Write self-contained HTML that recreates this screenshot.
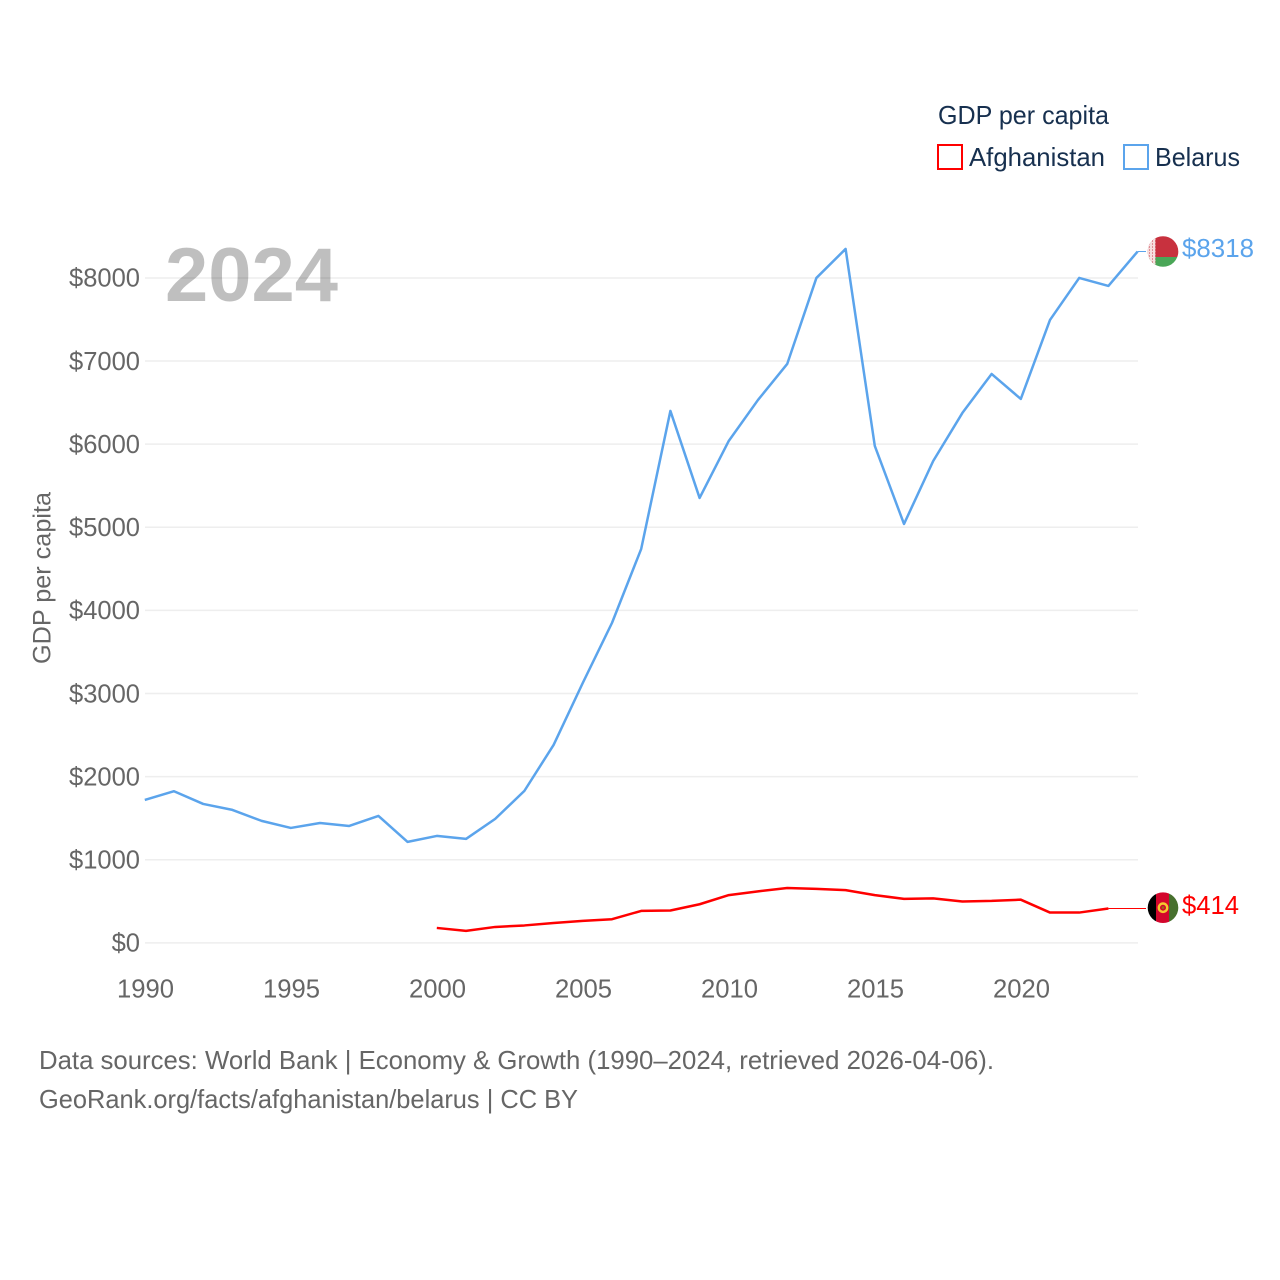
<!DOCTYPE html>
<html lang="en">
<head>
<meta charset="utf-8">
<title>GDP per capita: Afghanistan and Belarus</title>
<style>
html,body{margin:0;padding:0;background:#fff;}
svg{display:block;}
text{font-family:"Liberation Sans",sans-serif;}
</style>
</head>
<body>
<svg id="chart" width="1280" height="1280" viewBox="0 0 1280 1280" xmlns="http://www.w3.org/2000/svg">
  <defs>
    <clipPath id="flag-clip-by"><circle cx="0" cy="0" r="15.3"/></clipPath>
    <clipPath id="flag-clip-af"><circle cx="0" cy="0" r="15.3"/></clipPath>
    <pattern id="ornament" width="3" height="3" patternUnits="userSpaceOnUse">
      <rect width="3" height="3" fill="#f6dede"/>
      <rect x="1" y="1" width="1" height="1" fill="#c9404c"/>
    </pattern>
  </defs>
  <g id="grid"></g>
  <g id="y-ticks"></g>
  <g id="x-ticks"></g>
  <text x="165" y="301" font-size="76" font-weight="700" fill="#000" fill-opacity="0.25" textLength="173" lengthAdjust="spacingAndGlyphs">2024</text>
  <text transform="translate(50.5,664) rotate(-90)" font-size="25" fill="#666" textLength="172" lengthAdjust="spacingAndGlyphs">GDP per capita</text>
  <g id="series"></g>
  <g id="flag-by">
    <g clip-path="url(#flag-clip-by)">
      <rect x="-16" y="-16" width="32" height="21.5" fill="#c8313e"/>
      <rect x="-16" y="5.5" width="32" height="11" fill="#4aa657"/>
      <rect x="-16" y="-16" width="8.5" height="32" fill="url(#ornament)"/>
    </g>
  </g>
  <g id="flag-af">
    <g clip-path="url(#flag-clip-af)">
      <rect x="-16" y="-16" width="9" height="32" fill="#000"/>
      <rect x="-7" y="-16" width="13" height="32" fill="#d3062c"/>
      <rect x="6" y="-16" width="10" height="32" fill="#47702e"/>
      <circle cx="0" cy="0" r="4.2" fill="none" stroke="#f6c72f" stroke-width="2.4"/>
      <circle cx="0" cy="0" r="1.4" fill="#9a6a10"/>
    </g>
  </g>
  <text id="label-by" x="1182" font-size="26" fill="#5ba4ec" textLength="72" lengthAdjust="spacingAndGlyphs"></text>
  <text id="label-af" x="1182" font-size="26" fill="#ff0000" textLength="57" lengthAdjust="spacingAndGlyphs"></text>

  <g>
    <text x="938" y="124" font-size="26" fill="#17304f" textLength="171" lengthAdjust="spacingAndGlyphs">GDP per capita</text>
    <g>
      <rect x="938" y="145" width="24" height="24" fill="none" stroke="#ff0000" stroke-width="2"/>
      <text x="969" y="166" font-size="26" fill="#17304f" textLength="136" lengthAdjust="spacingAndGlyphs">Afghanistan</text>
    </g>
    <g>
      <rect x="1124" y="145" width="24" height="24" fill="none" stroke="#5ba4ec" stroke-width="2"/>
      <text x="1155" y="166" font-size="26" fill="#17304f" textLength="85" lengthAdjust="spacingAndGlyphs">Belarus</text>
    </g>
  </g>

  <text x="39" y="1069" font-size="26" fill="#666" textLength="955" lengthAdjust="spacingAndGlyphs">Data sources: World Bank | Economy &amp; Growth (1990–2024, retrieved 2026-04-06).</text>
  <text x="39" y="1108" font-size="26" fill="#666" textLength="539" lengthAdjust="spacingAndGlyphs">GeoRank.org/facts/afghanistan/belarus | CC BY</text>
</svg>
<script>
const belarusYears = [1990,1991,1992,1993,1994,1995,1996,1997,1998,1999,2000,2001,2002,2003,2004,2005,2006,2007,2008,2009,2010,2011,2012,2013,2014,2015,2016,2017,2018,2019,2020,2021,2022,2023,2024];
const belarusValues = [1720,1825,1672,1600,1468,1383,1443,1407,1528,1215,1287,1251,1492,1829,2382,3128,3850,4740,6400,5353,6040,6532,6965,8000,8349,5979,5040,5798,6376,6845,6544,7495,8000,7904,8318];
const afghanistanYears = [2000,2001,2002,2003,2004,2005,2006,2007,2008,2009,2010,2011,2012,2013,2014,2015,2016,2017,2018,2019,2020,2021,2022,2023];
const afghanistanValues = [180,145,192,210,240,265,285,385,390,465,575,620,660,650,635,575,530,535,498,505,520,365,365,414];
const yTickValues = [0,1000,2000,3000,4000,5000,6000,7000,8000];
const xTickValues = [1990,1995,2000,2005,2010,2015,2020];

const SVG_NS = 'http://www.w3.org/2000/svg';
function xScale(year){ return 144.8 + (year - 1990) * 29.2; }
function yScale(value){ return 942.9 - value * 0.08312; }
function make(tag, parent, attrs){
  const el = document.createElementNS(SVG_NS, tag);
  for (const k in attrs) el.setAttribute(k, attrs[k]);
  parent.appendChild(el);
  return el;
}

const gridGroup = document.getElementById('grid');
const yGroup = document.getElementById('y-ticks');
yTickValues.forEach(function(v){
  const line = make('line', gridGroup, {x1:145, x2:1138, y1:yScale(v), y2:yScale(v), stroke:'#eeeeee', 'stroke-width':1.5});
  
  
  const label = '$' + v;
  const t = make('text', yGroup, {x:140, y:yScale(v) + 8.8, 'text-anchor':'end', 'font-size':26, fill:'#666', textLength:label.length * 14.2, lengthAdjust:'spacingAndGlyphs'});
  
  
  t.textContent = label;
});

const xGroup = document.getElementById('x-ticks');
xTickValues.forEach(function(year){
  const t = make('text', xGroup, {x:xScale(year) + 0.7, y:997.5, 'text-anchor':'middle', 'font-size':26, fill:'#666', textLength:57, lengthAdjust:'spacingAndGlyphs'});
  
  
  t.textContent = String(year);
});

function pathFor(years, values){
  return years.map(function(y, i){ return (i ? 'L' : 'M') + xScale(y).toFixed(2) + ' ' + yScale(values[i]).toFixed(2); }).join(' ');
}
const seriesGroup = document.getElementById('series');

const belarusLine = make('path', seriesGroup, {d:pathFor(belarusYears, belarusValues), fill:'none', stroke:'#5ba4ec', 'stroke-width':2.5, 'stroke-linejoin':'round'});



const afghanistanLine = make('path', seriesGroup, {d:pathFor(afghanistanYears, afghanistanValues), fill:'none', stroke:'#ff0000', 'stroke-width':2.5, 'stroke-linejoin':'round'});



function lastOf(arr){ return arr[arr.length - 1]; }

const byY = yScale(lastOf(belarusValues));
const byLeader = make('line', seriesGroup, {x1:xScale(lastOf(belarusYears)), y1:byY, x2:1146, y2:byY, stroke:'#5ba4ec', 'stroke-width':1});



const afY = yScale(lastOf(afghanistanValues));
const afLeader = make('line', seriesGroup, {x1:xScale(lastOf(afghanistanYears)), y1:afY, x2:1146, y2:afY, stroke:'#ff0000', 'stroke-width':1});



document.getElementById('flag-by').setAttribute('transform', 'translate(1163,' + byY + ')');
document.getElementById('flag-af').setAttribute('transform', 'translate(1163,' + (afY - 0.8) + ')');

const labelBy = document.getElementById('label-by');
labelBy.setAttribute('y', byY + 5.7);
labelBy.textContent = '$' + lastOf(belarusValues);
const labelAf = document.getElementById('label-af');
labelAf.setAttribute('y', afY + 5.7);
labelAf.textContent = '$' + lastOf(afghanistanValues);
</script>
</body>
</html>
